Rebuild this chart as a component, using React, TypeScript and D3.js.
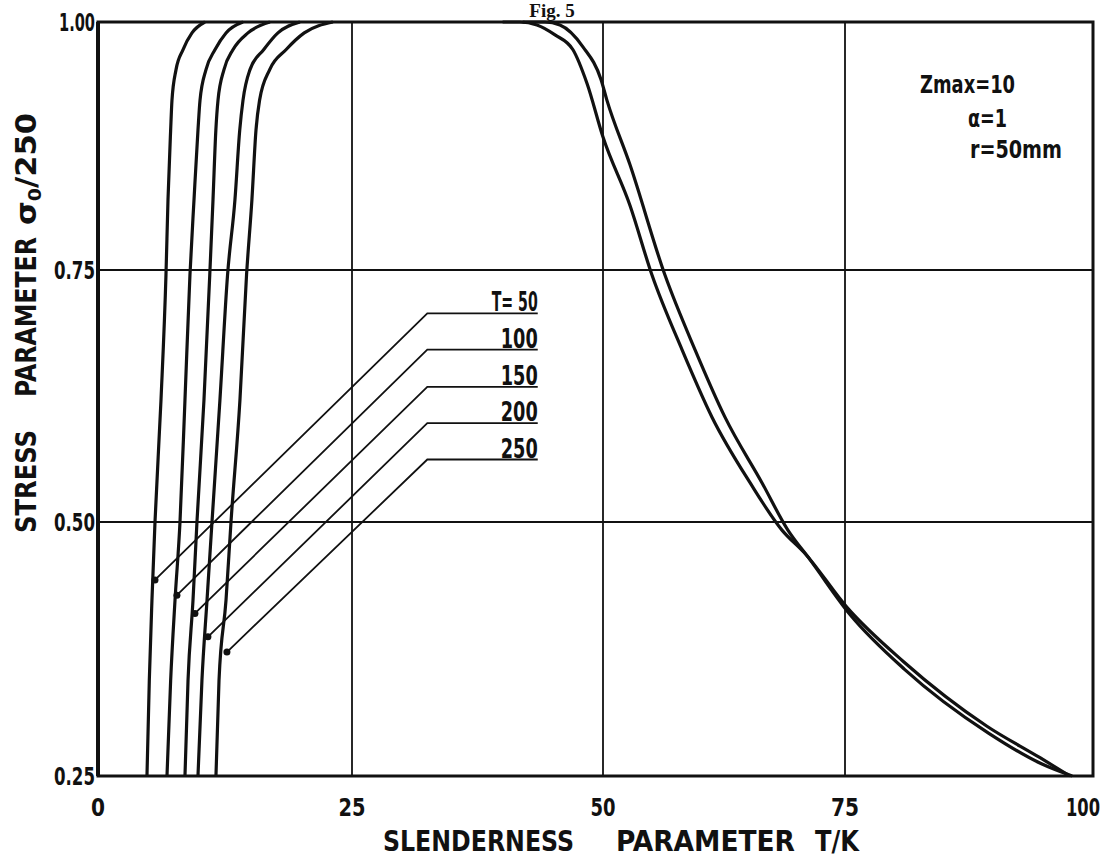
import React from 'react';
import * as d3 from 'd3';

// axis ticks
const xTicks = [0, 25, 50, 75, 100];
const xTickLabels = ['0', '25', '50', '75', '100'];
const yTicks = [0.25, 0.5, 0.75, 1.0];
const yTickLabels = ['0.25', '0.50', '0.75', '1.00'];

// left family of curves (T = 50 ... 250), x read at shared stress levels
const tensionLabels = ['T= 50', '100', '150', '200', '250'];
const leftLevels = [0.25, 0.344, 0.423, 0.5, 0.621, 0.745, 0.821, 0.891, 0.921, 0.952, 0.972, 0.989, 1.0];
const leftT50 = [4.82, 5.05, 5.31, 5.61, 6.2, 6.69, 6.89, 7.15, 7.28, 7.68, 8.36, 9.25, 10.53];
const leftT100 = [6.79, 7.15, 7.58, 8.07, 8.56, 9.05, 9.45, 9.84, 10.04, 10.63, 11.51, 12.6, 14.27];
const leftT150 = [8.56, 8.86, 9.35, 9.74, 10.43, 11.0, 11.32, 11.6, 11.81, 12.4, 13.28, 14.76, 16.92];
const leftT200 = [9.84, 10.23, 10.73, 11.22, 12.0, 12.75, 13.48, 13.95, 14.27, 14.96, 16.3, 17.71, 19.88];
const leftT250 = [11.61, 11.91, 12.6, 13.09, 13.97, 14.62, 15.15, 15.55, 15.9, 16.9, 18.5, 20.3, 23.12];

// where each leader touches its curve, and the elbow / end of the leader
const markerX = [5.61, 7.77, 9.54, 10.82, 12.69];
const markerY = [0.443, 0.428, 0.41, 0.387, 0.372];
const elbowY = [0.707, 0.671, 0.634, 0.598, 0.562];
const elbowX = 32.5;
const leaderEndX = 43.5;

// right pair of curves
const rightAX = [40, 41.73, 43.42, 45.22, 47.01, 48.41, 50.0, 52.79, 55.06, 58.16, 61.26, 65.19, 68.49, 70.87, 75.2, 80.85, 89.31, 94.66, 97.68];
const rightAY = [1.0, 1.0, 0.997, 0.987, 0.972, 0.938, 0.884, 0.815, 0.745, 0.671, 0.604, 0.539, 0.492, 0.469, 0.416, 0.363, 0.299, 0.268, 0.25];
const rightBX = [42, 44.22, 45.71, 48.0, 49.8, 50.41, 52.79, 56.4, 59.5, 62.6, 66.42, 69.1, 71.38, 75.5, 81.0, 89.5, 94.8, 97.9];
const rightBY = [1.0, 1.0, 0.997, 0.975, 0.942, 0.921, 0.856, 0.745, 0.671, 0.604, 0.539, 0.492, 0.463, 0.409, 0.355, 0.292, 0.262, 0.25];

const font = "'DejaVu Sans Condensed', 'Liberation Sans Narrow', 'DejaVu Sans', sans-serif";
const ink = '#111';

const App = () => {
  const width = 1115;
  const height = 864;

  // scanned grid is not quite even, so map each tick separately
  const x = d3.scaleLinear().domain(xTicks).range([98, 352, 603, 845, 1093]);
  const y = d3.scaleLinear().domain(yTicks).range([776, 522, 270, 22]);

  const line = d3.line<[number, number]>()
    .x(d => x(d[0]))
    .y(d => y(d[1]))
    .curve(d3.curveMonotoneX);

  const leftSeries = [leftT50, leftT100, leftT150, leftT200, leftT250]
    .map(xs => xs.map((v, i) => [v, leftLevels[i]] as [number, number]));
  const rightSeries = [
    rightAX.map((v, i) => [v, rightAY[i]] as [number, number]),
    rightBX.map((v, i) => [v, rightBY[i]] as [number, number]),
  ];

  return (
    <svg width={width} height={height} style={{ position: 'absolute', left: 0, top: 0, background: '#fff' }}>
      <text x={552} y={17} textAnchor='middle' fontFamily="'Liberation Serif', serif" fontWeight='bold' fontSize={19} fill={ink}>Fig. 5</text>

      {/* grid */}
      {[25, 50, 75].map(d =>
        <line key={`gx-${d}`} x1={x(d)} x2={x(d)} y1={y(1)} y2={y(0.25)} stroke={ink} strokeWidth={1.8} />
      )}
      {[0.5, 0.75].map(d =>
        <line key={`gy-${d}`} x1={x(0)} x2={x(100)} y1={y(d)} y2={y(d)} stroke={ink} strokeWidth={1.8} />
      )}
      <rect x={x(0)} y={y(1)} width={x(100) - x(0)} height={y(0.25) - y(1)} fill='none' stroke={ink} strokeWidth={3} />
      <line x1={x(0)} x2={x(0)} y1={y(1)} y2={y(0.25)} stroke={ink} strokeWidth={4} />

      {/* curves */}
      {leftSeries.map((s, i) =>
        <path key={`l-${i}`} d={line(s) || ''} fill='none' stroke={ink} strokeWidth={3.2} />
      )}
      {rightSeries.map((s, i) =>
        <path key={`r-${i}`} d={line(s) || ''} fill='none' stroke={ink} strokeWidth={3.2} />
      )}

      {/* leaders and T labels */}
      {tensionLabels.map((t, i) =>
        <g key={`t-${i}`}>
          <polyline
            points={`${x(markerX[i])},${y(markerY[i])} ${x(elbowX)},${y(elbowY[i])} ${x(leaderEndX)},${y(elbowY[i])}`}
            fill='none' stroke={ink} strokeWidth={1.8} />
          <circle cx={x(markerX[i])} cy={y(markerY[i])} r={3.5} fill={ink} />
          <text x={x(leaderEndX)} y={y(elbowY[i]) - 2} textAnchor='end' fontFamily={font} fontWeight='bold' fontSize={26}
            textLength={i === 0 ? 46 : 37} lengthAdjust='spacingAndGlyphs' fill={ink}>{t}</text>
        </g>
      )}

      {/* parameters */}
      <text x={920} y={93} fontFamily={font} fontWeight='bold' fontSize={24} textLength={95} lengthAdjust='spacingAndGlyphs' fill={ink}>Zmax=10</text>
      <text x={968} y={127} fontFamily={font} fontWeight='bold' fontSize={24} textLength={39} lengthAdjust='spacingAndGlyphs' fill={ink}>α=1</text>
      <text x={970} y={158} fontFamily={font} fontWeight='bold' fontSize={24} textLength={92} lengthAdjust='spacingAndGlyphs' fill={ink}>r=50mm</text>

      {/* tick labels */}
      {yTicks.map((d, i) =>
        <text key={`yt-${d}`} x={95} y={y(d) + 9} textAnchor='end' fontFamily={font} fontWeight='bold' fontSize={25}
          textLength={i === 3 ? 36 : 41} lengthAdjust='spacingAndGlyphs' fill={ink}>{yTickLabels[i]}</text>
      )}
      {xTicks.map((d, i) =>
        <text key={`xt-${d}`} x={i === 4 ? 1083 : x(d)} y={816} textAnchor='middle' fontFamily={font} fontWeight='bold' fontSize={25}
          textLength={[14, 27, 25, 28, 34][i]} lengthAdjust='spacingAndGlyphs' fill={ink}>{xTickLabels[i]}</text>
      )}

      {/* axis titles */}
      <text x={383} y={851} fontFamily={font} fontWeight='bold' fontSize={29} textLength={191} lengthAdjust='spacingAndGlyphs' fill={ink}>SLENDERNESS</text>
      <text x={616} y={851} fontFamily={font} fontWeight='bold' fontSize={29} textLength={179} lengthAdjust='spacingAndGlyphs' fill={ink}>PARAMETER</text>
      <text x={815} y={851} fontFamily={font} fontWeight='bold' fontSize={29} textLength={44} lengthAdjust='spacingAndGlyphs' fill={ink}>T/K</text>

      <g transform='translate(36,0)'>
        <text transform='translate(0,533) rotate(-90)' fontFamily={font} fontWeight='bold' fontSize={29} textLength={103} lengthAdjust='spacingAndGlyphs' fill={ink}>STRESS</text>
        <text transform='translate(0,397) rotate(-90)' fontFamily={font} fontWeight='bold' fontSize={29} textLength={160} lengthAdjust='spacingAndGlyphs' fill={ink}>PARAMETER</text>
        <text transform='translate(0,225) rotate(-90)' fontFamily={font} fontWeight='bold' fontSize={29} textLength={112} lengthAdjust='spacingAndGlyphs' fill={ink}>σ<tspan fontSize={18} dy={5}>0</tspan><tspan dy={-5}>/250</tspan></text>
      </g>
    </svg>
  );
};

export default App;
